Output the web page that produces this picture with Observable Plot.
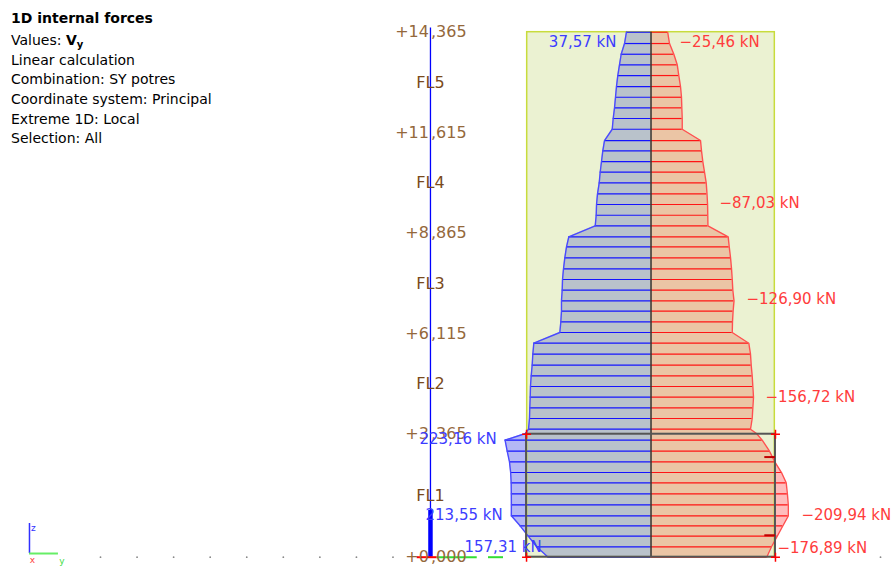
<!DOCTYPE html>
<html>
<head>
<meta charset="utf-8">
<script src="https://cdn.jsdelivr.net/npm/d3@7"></script>
<script src="https://cdn.jsdelivr.net/npm/@observablehq/plot@0.6"></script>
<style>
  html, body { margin: 0; padding: 0; background: #fff; }
  #wrap { position: relative; width: 891px; height: 568px; overflow: hidden; }
  #info { position: absolute; left: 11px; top: 0; font-family: "DejaVu Sans", sans-serif; font-size: 14px; color: #000; }
  #info div { position: absolute; left: 0; white-space: nowrap; line-height: 20px; }
  #info sub { font-size: 10px; vertical-align: -3px; line-height: 0; }
</style>
</head>
<body>
<div id="wrap">
  <div id="chart"></div>
  <div id="info"></div>
</div>
<script>
// ---------- header text ----------
const infoLines = [
  "<b>1D internal forces</b>",
  "Values: <b>V<sub>y</sub></b>",
  "Linear calculation",
  "Combination: SY potres",
  "Coordinate system: Principal",
  "Extreme 1D: Local",
  "Selection: All"
];
const infoCenters = [18, 40, 59.5, 79, 99, 118.5, 138];

// ---------- levels (m) ----------
const levelZ   = [14.365, 11.615, 8.865, 6.115, 3.365, 0];
const levelInt = ["+14", "+11", "+8", "+6", "+3", "+0"];
const levelDec = [",365", ",615", ",865", ",115", ",365", ",000"];
const floorNames = ["FL5", "FL4", "FL3", "FL2", "FL1"];
const floorZ = [12.99, 10.24, 7.49, 4.74, 1.6825];

// ---------- result stations (height z in m) ----------
const stationZ = [
  14.365, 14.055, 13.762, 13.472, 13.179, 12.878, 12.585, 12.295, 12.003, 11.710,
  11.401, 11.119, 10.826, 10.534, 10.243, 9.943, 9.650, 9.357, 9.067,
  8.766, 8.493, 8.191, 7.891, 7.598, 7.305, 7.015, 6.731, 6.440, 6.148,
  5.855, 5.554, 5.253, 4.963, 4.670, 4.378, 4.088, 3.795, 3.502,
  3.384, 3.204, 2.900, 2.610, 2.317, 2.036, 1.735, 1.434, 1.133, 0.859, 0.575, 0.285, 0
];
// Vy, blue diagram (kN)
const vyBlue = [
  37.57, 40.5, 45.6, 48.2, 50.8, 52.8, 54.3, 55.8, 57.8, 59.3,
  71.1, 73.7, 75.7, 77.7, 79.2, 81.8, 83.3, 83.8, 85.3,
  125.7, 129.2, 131.8, 133.8, 135.3, 135.8, 136.9, 136.9, 137.9, 139.4,
  179.2, 180.7, 181.7, 183.2, 184.3, 184.7, 185.3, 185.8, 187.3,
  192.0, 223.16, 219.9, 216.4, 214.6, 213.8, 213.6, 213.5, 213.55, 200.2, 187.8, 174.8, 157.31
];
// Vy, red diagram (kN)
const vyRed = [
  -25.46, -28.3, -34.9, -40.1, -42.5, -45.1, -46.6, -47.1, -47.7, -47.7,
  -75.7, -77.2, -79.2, -81.8, -84.4, -85.6, -86.5, -86.8, -87.03,
  -118.0, -119.6, -121.6, -123.1, -124.2, -125.1, -126.9, -125.5, -124.6, -124.2,
  -149.5, -152.1, -153.2, -154.7, -155.7, -156.72, -155.7, -154.7, -152.1,
  -161.3, -170.0, -181.2, -189.3, -199.5, -206.7, -208.5, -209.9, -209.94, -201.5, -193.0, -184.2, -176.89
];
const hatched = stationZ.map((z, i) => i !== 38);

// ---------- value labels ----------
const labelText = ["37,57 kN", "−25,46 kN", "−87,03 kN", "−126,90 kN", "−156,72 kN",
                   "223,16 kN", "213,55 kN", "157,31 kN", "−209,94 kN", "−176,89 kN"];
const labelX = [52.8, -43.6, -104.7, -146, -175.1, 354, 344.8, 285.2, -230, -193.4];
const labelZ = [14.08, 14.08, 9.677, 7.05, 4.37, 3.22, 1.144, 0.265, 1.144, 0.24];
const labelAnchor = ["end", "start", "start", "start", "start", "start", "start", "start", "start", "start"];
const labelColor = ["#3c3cff", "#ff3c3c", "#ff3c3c", "#ff3c3c", "#ff3c3c",
                    "#3c3cff", "#3c3cff", "#3c3cff", "#ff3c3c", "#ff3c3c"];

// ---------- geometry (in diagram units: kN across, m up) ----------
const memberHalf = 189.3;      // member outline half-width
const groundHalf = 190.3;      // ground-storey frame half-width
const levelAxisX = 337.2;      // position of the level axis
const sectionTicksZ = [2.74, 0.60];
const gridDotsX = [841.7, 785.8, 729.9, 674.0, 618.1, 562.2, 506.3, 450.4, 394.5, -350.9];

// ---------- build rows ----------
const rows = stationZ.map((z, i) => ({z, blue: vyBlue[i], red: vyRed[i], hatch: hatched[i]}));
const hatchRows = rows.filter(d => d.hatch);
const levels = levelZ.map((z, i) => ({z, a: levelInt[i], b: levelDec[i]}));
const floors = floorZ.map((z, i) => ({z, name: floorNames[i]}));
const labels = labelText.map((t, i) => ({t, x: labelX[i], z: labelZ[i], anchor: labelAnchor[i], c: labelColor[i]}));
const memberBox = [{x1: memberHalf, x2: -memberHalf, y1: 0, y2: levelZ[0]}];
const groundBox = [{x1: groundHalf, x2: -groundHalf, y1: 0, y2: levelZ[4]}];
const corners = [
  {x: groundHalf, z: levelZ[4]}, {x: -groundHalf, z: levelZ[4]},
  {x: groundHalf, z: 0}, {x: -groundHalf, z: 0}
];

const font = "DejaVu Sans";
const chart = Plot.plot({
  width: 891,
  height: 568,
  margin: 0,
  style: {background: "transparent", fontFamily: font, overflow: "visible"},
  x: {domain: [994.6, -367.7], range: [0, 891], axis: null},
  y: {domain: [0, 14.365], range: [556.7, 31.7], axis: null},
  color: {type: "identity"},
  marks: [
    // diagram fills
    Plot.areaX(rows, {y: "z", x1: d => 0, x2: "blue", fill: "#b4b8f5", curve: "linear"}),
    Plot.areaX(rows, {y: "z", x1: d => 0, x2: "red", fill: "#ffbcbc", curve: "linear"}),
    // member (translucent)
    Plot.rect(memberBox, {x1: "x1", x2: "x2", y1: "y1", y2: "y2", fill: "rgb(195,216,120)", fillOpacity: 0.333}),
    Plot.rect(memberBox, {x1: "x1", x2: "x2", y1: "y1", y2: "y2", fill: "none", stroke: "#c8dc3c", strokeWidth: 1.5}),
    // hatch lines
    Plot.ruleY(hatchRows, {y: "z", x1: d => 0, x2: "blue", stroke: "#1414ff", strokeWidth: 1.2}),
    Plot.ruleY(hatchRows, {y: "z", x1: d => 0, x2: "red", stroke: "#ff1414", strokeWidth: 1.2}),
    // outlines
    Plot.lineX(rows, {x: "blue", y: "z", stroke: "#4a4aff", strokeWidth: 1.4, curve: "linear"}),
    Plot.lineX(rows, {x: "red", y: "z", stroke: "#ff5050", strokeWidth: 1.4, curve: "linear"}),
    // centre line
    Plot.ruleX([0], {y1: 0, y2: levelZ[0], stroke: "#333", strokeWidth: 1.5}),
    // ground storey frame
    Plot.rect(groundBox, {x1: "x1", x2: "x2", y1: "y1", y2: "y2", fill: "none", stroke: "#555", strokeWidth: 2}),
    Plot.dot(corners, {x: "x", y: "z", symbol: "plus", stroke: "#ff0000", r: 3, strokeWidth: 1.5}),
    Plot.ruleY(sectionTicksZ, {y: d => d, x1: d => -174, x2: d => -groundHalf, stroke: "#c00000", strokeWidth: 2}),
    // grid dots on ground line
    Plot.dot(gridDotsX, {x: d => d, y: d => 0, r: 0.9, fill: "#888", stroke: "none"}),
    // level axis
    Plot.ruleX([levelAxisX], {y1: 0, y2: 14.48, stroke: "#0000ff", strokeWidth: 1.3}),
    Plot.ruleX([levelAxisX], {y1: 0, y2: 1.28, stroke: "#0000ff", strokeWidth: 4.5}),
    Plot.ruleY([0], {x1: 357.5, x2: 326.9, stroke: "#ff0000", strokeWidth: 2}),
    Plot.ruleY([0], {x1: 326.9, x2: 265.7, stroke: "#33dd33", strokeWidth: 2}),
    Plot.ruleY([0], {x1: 248.5, x2: 225.5, stroke: "#33dd33", strokeWidth: 2}),
    // level labels
    Plot.text(levels, {x: d => levelAxisX, y: "z", text: "a", textAnchor: "end", dx: -1.5, fill: "#94683c", fontSize: 16, fontFamily: font}),
    Plot.text(levels, {x: d => levelAxisX, y: "z", text: "b", textAnchor: "start", dx: 0.5, fill: "#94683c", fontSize: 16, fontFamily: font}),
    Plot.text(floors, {x: d => levelAxisX, y: "z", text: "name", textAnchor: "middle", fill: "#7a4a1c", fontSize: 16, fontFamily: font}),
    // value labels
    Plot.text(labels.filter(d => d.anchor === "end"), {x: "x", y: "z", text: "t", textAnchor: "end", fill: "c", fontSize: 15, fontFamily: font}),
    Plot.text(labels.filter(d => d.anchor === "start"), {x: "x", y: "z", text: "t", textAnchor: "start", fill: "c", fontSize: 15, fontFamily: font}),
    // global axes icon
    Plot.ruleX([950.3], {y1: 0.101, y2: 0.922, stroke: "#3030ff", strokeWidth: 1.5}),
    Plot.ruleY([0.101], {x1: 950.3, x2: 906, stroke: "#66ee66", strokeWidth: 2}),
    Plot.text(["z"], {x: d => 944.2, y: d => 0.785, text: d => d, fill: "#3030ff", fontSize: 9, fontFamily: font}),
    Plot.text(["x"], {x: d => 945.7, y: d => -0.09, text: d => d, fill: "#ff4040", fontSize: 9, fontFamily: font}),
    Plot.text(["y"], {x: d => 900.8, y: d => -0.118, text: d => d, fill: "#44dd44", fontSize: 9, fontFamily: font})
  ]
});
document.getElementById("chart").appendChild(chart);

const info = document.getElementById("info");
infoLines.forEach((html, i) => {
  const d = document.createElement("div");
  d.innerHTML = html;
  d.style.top = (infoCenters[i] - 10) + "px";
  info.appendChild(d);
});
</script>
</body>
</html>
